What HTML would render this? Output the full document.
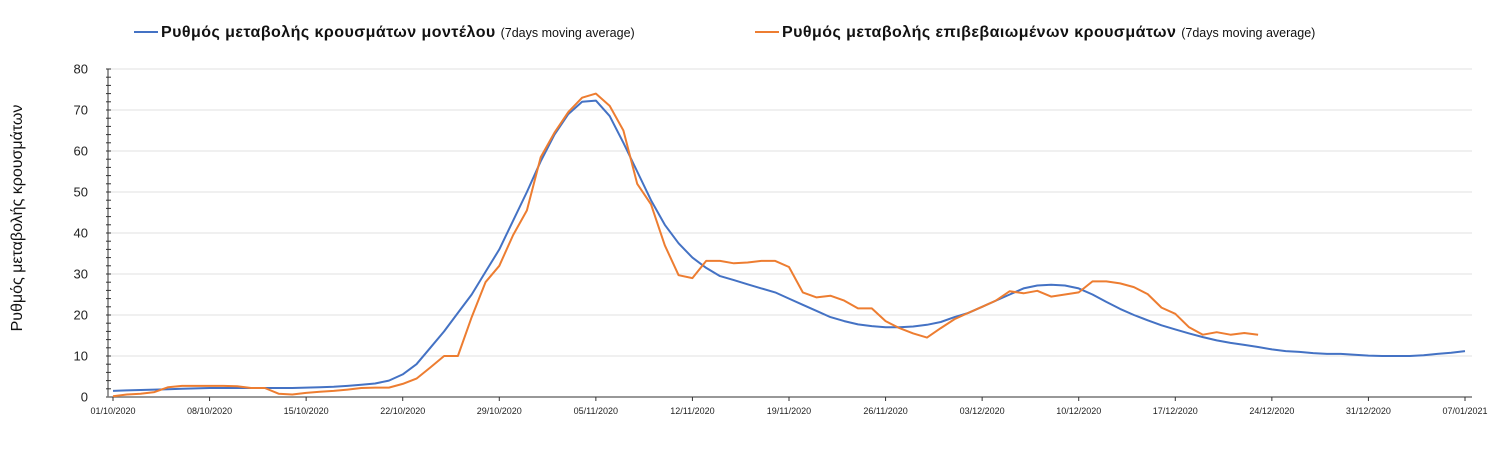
<!DOCTYPE html>
<html><head><meta charset="utf-8"><style>
html,body{margin:0;padding:0;background:#fff;}
svg{display:block;font-family:"Liberation Sans","DejaVu Sans",sans-serif;}
</style></head><body>
<svg id="chart" width="1507" height="475">
<g id="grid"></g>
<g id="axes"></g>
<g id="series"></g>
<g>
 <line x1="134" y1="32" x2="158" y2="32" stroke="#4472c4" stroke-width="2"/>
 <text x="161" y="37" font-size="16" font-weight="bold" letter-spacing="0.45" fill="#111">Ρυθμός μεταβολής κρουσμάτων μοντέλου <tspan font-size="12.5" font-weight="normal" letter-spacing="0">(7days moving average)</tspan></text>
 <line x1="755" y1="32" x2="779" y2="32" stroke="#ed7d31" stroke-width="2"/>
 <text x="782" y="37" font-size="16" font-weight="bold" letter-spacing="0.45" fill="#111">Ρυθμός μεταβολής επιβεβαιωμένων κρουσμάτων <tspan font-size="12.5" font-weight="normal" letter-spacing="0">(7days moving average)</tspan></text>
</g>
<text transform="translate(22,218) rotate(-90)" text-anchor="middle" font-size="16" fill="#111">Ρυθμός μεταβολής κρουσμάτων</text>
</svg>
<script>
const xTickLabels=["01/10/2020","08/10/2020","15/10/2020","22/10/2020","29/10/2020","05/11/2020","12/11/2020","19/11/2020","26/11/2020","03/12/2020","10/12/2020","17/12/2020","24/12/2020","31/12/2020","07/01/2021"];
const yTickValues=[0,10,20,30,40,50,60,70,80];
const modelSeries=[1.5,1.6,1.7,1.8,1.9,2.0,2.1,2.2,2.2,2.2,2.2,2.2,2.2,2.2,2.3,2.4,2.5,2.7,3.0,3.3,4.0,5.5,8,12,16,20.5,25,30.5,36,43,50,57.5,64,69,72,72.3,68.5,62,55,48,42,37.5,34,31.5,29.5,28.5,27.5,26.5,25.5,24,22.5,21,19.5,18.5,17.7,17.3,17,17,17.2,17.6,18.3,19.5,20.5,22,23.5,25,26.5,27.2,27.4,27.2,26.5,25,23.2,21.5,20,18.7,17.5,16.5,15.5,14.6,13.8,13.2,12.7,12.2,11.6,11.2,11,10.7,10.5,10.5,10.3,10.1,10,10,10,10.2,10.5,10.8,11.2];
const confirmedSeries=[0.2,0.6,0.8,1.2,2.4,2.7,2.7,2.7,2.7,2.6,2.2,2.2,0.8,0.6,1.0,1.3,1.5,1.8,2.2,2.3,2.3,3.2,4.5,7.2,10,10,19.5,28,32,39.5,45.5,58.5,64.5,69.5,73,74,71,65,52,47,37,29.7,29,33.2,33.2,32.6,32.8,33.2,33.2,31.7,25.5,24.3,24.7,23.5,21.6,21.6,18.5,16.8,15.5,14.5,16.8,19,20.5,22,23.5,25.8,25.3,25.9,24.5,25,25.5,28.2,28.2,27.7,26.8,25.1,21.8,20.3,17,15.2,15.8,15.2,15.6,15.2];
const NS="http://www.w3.org/2000/svg";
const X0=113,X1=1465,Y0=397,Y1=69,DAYS=98,YMAX=80;
const xScale=d=>X0+(X1-X0)*d/DAYS;
const yScale=v=>Y0-(Y0-Y1)*v/YMAX;
function mk(tag,attrs,parent){const e=document.createElementNS(NS,tag);for(const k in attrs)e.setAttribute(k,attrs[k]);parent.appendChild(e);return e;}
const grid=document.getElementById('grid'),axes=document.getElementById('axes'),series=document.getElementById('series');
yTickValues.forEach(v=>{
 if(v>0){const g=mk('line',{x1:X0-6,x2:1472,y1:yScale(v),y2:yScale(v),stroke:'#e0e0e0','stroke-width':1},grid);
 
 }
 const t=mk('text',{x:88,y:yScale(v)+4.5,'text-anchor':'end','font-size':13,fill:'#222'},axes);
 t.textContent=v;
 
 
});
for(let v=0;v<=YMAX;v+=2){const m=mk('line',{x1:X0-7,x2:X0-2,y1:yScale(v),y2:yScale(v),stroke:'#333','stroke-width':1},axes);
 
 }
const ya=mk('line',{x1:X0-5,x2:X0-5,y1:Y1,y2:Y0,stroke:'#333','stroke-width':1},axes);


const xa=mk('line',{x1:X0-6,x2:1472,y1:Y0,y2:Y0,stroke:'#777','stroke-width':1.5},axes);


xTickLabels.forEach((lab,i)=>{
 const x=xScale(i*7);
 const tk=mk('line',{x1:x,x2:x,y1:Y0,y2:Y0+4,stroke:'#333'},axes);
 
 
 const t=mk('text',{x:x,y:414,'text-anchor':'middle','font-size':9,fill:'#222'},axes);
 t.textContent=lab;
 
 
});
function line(arr,color,name){
 const pts=arr.map((v,i)=>xScale(i).toFixed(1)+','+yScale(v).toFixed(1)).join(' ');
 const p=mk('polyline',{points:pts,fill:'none',stroke:color,'stroke-width':2,'stroke-linejoin':'round'},series);
 
 
}
line(modelSeries,'#4472c4','model-series-line');
line(confirmedSeries,'#ed7d31','confirmed-series-line');
</script>
</body></html>
